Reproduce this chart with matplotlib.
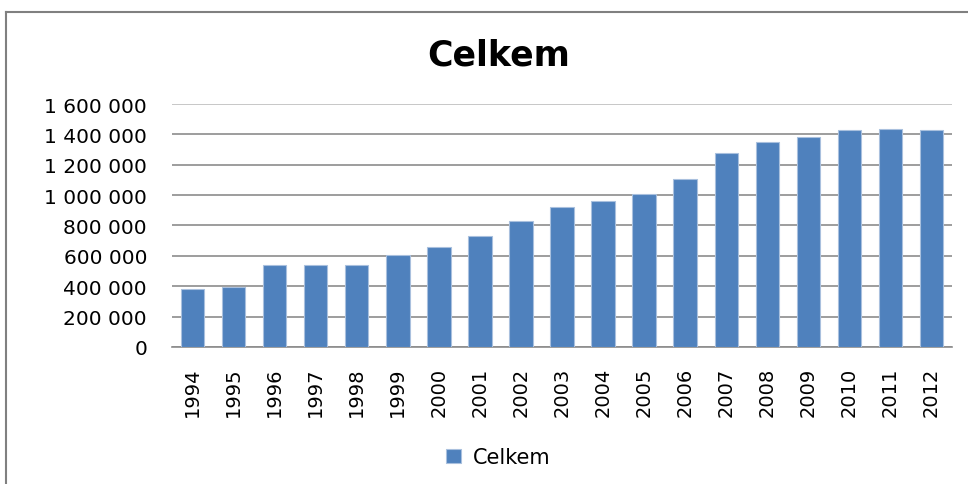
import matplotlib
matplotlib.use("Agg")
import matplotlib.pyplot as plt
from matplotlib.ticker import FuncFormatter
from matplotlib.lines import Line2D

years = [str(y) for y in range(1994, 2013)]
celkem = [382000, 397000, 542000, 542000, 542000, 604000, 660000, 731000,
          828000, 920000, 961000, 1009000, 1108000, 1277000, 1348000,
          1381000, 1431000, 1437000, 1431000]
y_ticks = [0, 200000, 400000, 600000, 800000, 1000000, 1200000, 1400000, 1600000]

plt.rcParams['font.family'] = ['DejaVu Sans']

fig = plt.figure(figsize=(9.68, 4.85), dpi=100)
ax = fig.add_axes([0.1777, 0.2825, 0.8058, 0.501])

ax.bar(range(len(years)), celkem, width=0.57, color='#4f81bd',
       edgecolor='#a9c0de', linewidth=0.8, zorder=3, label='Celkem')

ax.set_xlim(-0.5, len(years) - 0.5)
ax.set_ylim(0, 1600000)
ax.set_yticks(y_ticks)
ax.yaxis.set_major_formatter(FuncFormatter(lambda v, p: f'{int(v):,}'.replace(',', ' ')))
ax.set_xticks(range(len(years)))
ax.set_xticklabels(years, rotation=90)

ax.grid(axis='y', color='#8c8c8c', linewidth=1.2, zorder=0)
ax.tick_params(axis='y', length=0, pad=18, labelsize=14.5)
ax.tick_params(axis='x', length=0, pad=14, labelsize=14)
for side in ['top', 'right', 'left']:
    ax.spines[side].set_visible(False)
ax.spines['bottom'].set_color('#8c8c8c')
ax.spines['bottom'].set_linewidth(1.2)
ax.get_ygridlines()[-1].set_color('#bdbdbd')

fig.text(0.515, 0.885, 'Celkem', ha='center', va='center',
         fontsize=25, fontweight='bold')

fig.legend(loc='center', bbox_to_anchor=(0.515, 0.055), frameon=False,
           fontsize=15, handlelength=0.7, handleheight=0.7, handletextpad=0.6)

# chart frame (only top and left edges visible in the crop)
fig.add_artist(Line2D([0.0062, 1.0], [0.973, 0.973], color='#808080', linewidth=1.5))
fig.add_artist(Line2D([0.0062, 0.0062], [0.0, 0.973], color='#808080', linewidth=1.5))

fig.savefig('out.png', dpi=100)
